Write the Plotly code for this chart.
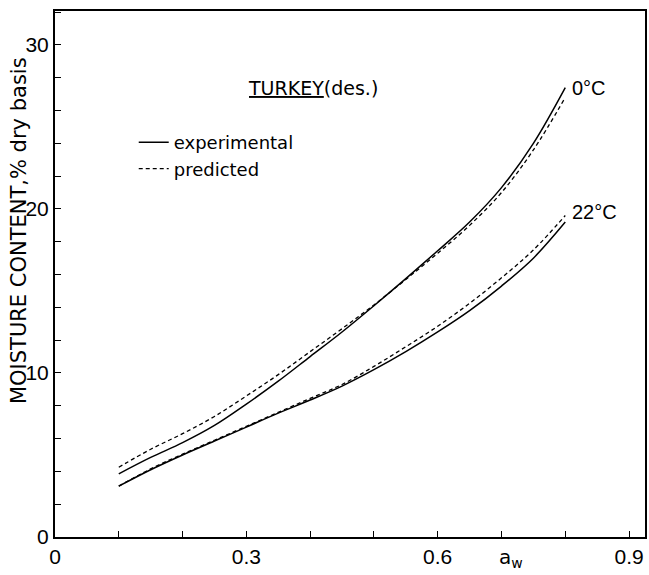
import plotly.graph_objects as go

# water activity grid
aw = [0.10, 0.15, 0.20, 0.25, 0.30, 0.35, 0.40, 0.45, 0.50, 0.55, 0.60, 0.65, 0.70, 0.75, 0.80]

# moisture content, % dry basis
exp_0C  = [3.85, 4.85, 5.75, 6.8, 8.1, 9.5, 11.0, 12.5, 14.1, 15.75, 17.45, 19.2, 21.3, 24.0, 27.4]
pred_0C = [4.25, 5.35, 6.3, 7.35, 8.6, 9.9, 11.3, 12.7, 14.15, 15.7, 17.3, 19.0, 21.0, 23.6, 26.8]
exp_22C  = [3.1, 4.1, 5.0, 5.85, 6.7, 7.55, 8.35, 9.2, 10.2, 11.3, 12.5, 13.8, 15.3, 17.0, 19.2]
pred_22C = [3.1, 4.15, 5.05, 5.9, 6.75, 7.6, 8.45, 9.3, 10.4, 11.6, 12.85, 14.25, 15.8, 17.5, 19.6]

x_ticks = [0, 0.3, 0.6, 0.9]
x_ticklabels = ["0", "0.3", "0.6", "0.9"]
y_ticks = [0, 10, 20, 30]
y_ticklabels = ["0", "10", "20", "30"]

solid = dict(color="black", width=1.5, shape="spline", smoothing=1.0)
dashed = dict(color="black", width=1.3, dash="4px,3px", shape="spline", smoothing=1.0)

fig = go.Figure()
fig.add_trace(go.Scatter(x=aw, y=exp_0C, mode="lines", line=solid, name="experimental", showlegend=True))
fig.add_trace(go.Scatter(x=aw, y=pred_0C, mode="lines", line=dashed, name="predicted", showlegend=True))
fig.add_trace(go.Scatter(x=aw, y=exp_22C, mode="lines", line=solid, name="experimental", showlegend=False))
fig.add_trace(go.Scatter(x=aw, y=pred_22C, mode="lines", line=dashed, name="predicted", showlegend=False))

num_font = dict(family="Liberation Sans", size=21, color="black")
txt_font = dict(family="DejaVu Sans", size=18, color="black")

fig.add_annotation(x=0.807, y=exp_0C[-1], text="0°C", showarrow=False, xanchor="left", yanchor="middle",
                   font=dict(family="Liberation Sans", size=20, color="black"))
fig.add_annotation(x=0.807, y=19.8, text="22°C", showarrow=False, xanchor="left", yanchor="middle",
                   font=dict(family="Liberation Sans", size=20, color="black"))
fig.add_annotation(xref="paper", yref="paper", x=(247 - 55) / 592, y=1 - (88 - 11) / 526,
                   text="<u>TURKEY</u>(des.)", showarrow=False, xanchor="left", yanchor="middle",
                   font=dict(family="DejaVu Sans", size=19, color="black"))
fig.add_annotation(xref="paper", yref="paper", x=(513 - 55) / 592, y=-(558 - 537) / 526,
                   text="a<sub>w</sub>", showarrow=False, xanchor="center", yanchor="middle",
                   font=dict(family="DejaVu Sans", size=20, color="black"))
fig.add_annotation(xref="paper", yref="paper", x=-(55 - 19) / 592, y=1 - (231 - 11) / 526,
                   text="MOISTURE CONTENT,% dry basis", textangle=-90, showarrow=False,
                   xanchor="center", yanchor="middle",
                   font=dict(family="DejaVu Sans", size=21, color="black"))

fig.update_layout(
    width=649, height=575,
    margin=dict(l=55, r=2, t=11, b=38),
    paper_bgcolor="white", plot_bgcolor="white",
    showlegend=True,
    legend=dict(x=(134 - 55) / 592, y=1 - (124 - 11) / 526, xanchor="left", yanchor="top",
                font=txt_font, bgcolor="rgba(0,0,0,0)", itemwidth=30, tracegroupgap=0),
    xaxis=dict(range=[0, 0.925], tickvals=x_ticks, ticktext=x_ticklabels, ticks="inside", ticklen=6,
               tickwidth=1.2, tickcolor="black", showline=True, linecolor="black", linewidth=2,
               mirror=True, showgrid=False, zeroline=False, tickfont=num_font,
               minor=dict(dtick=0.1, tick0=0, ticks="inside", ticklen=6, tickwidth=1.2, tickcolor="black", showgrid=False)),
    yaxis=dict(range=[0, 32.07], tickvals=y_ticks, ticktext=y_ticklabels, ticks="inside", ticklen=6,
               tickwidth=1.2, tickcolor="black", showline=True, linecolor="black", linewidth=2,
               mirror=True, showgrid=False, zeroline=False, tickfont=num_font,
               minor=dict(dtick=2, tick0=0, ticks="inside", ticklen=6, tickwidth=1.2, tickcolor="black", showgrid=False)),
)

fig.write_html("out.html")
